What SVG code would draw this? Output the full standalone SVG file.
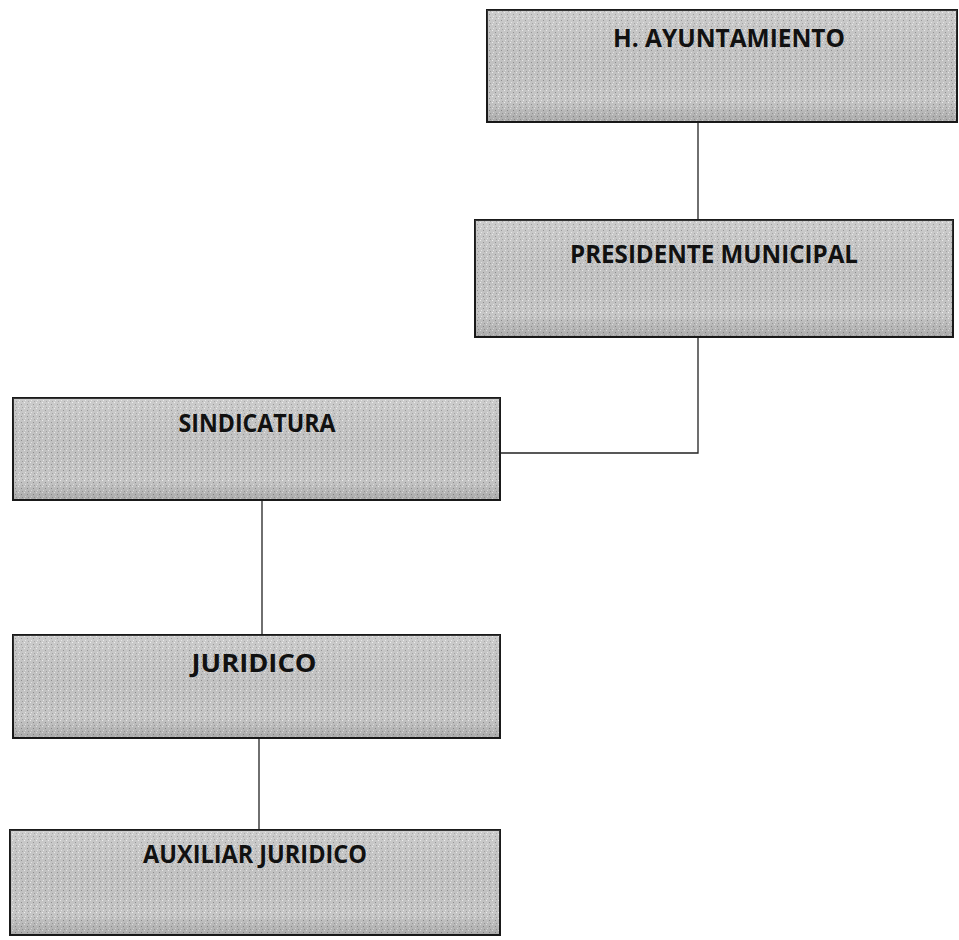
<svg xmlns="http://www.w3.org/2000/svg" width="959" height="940" viewBox="0 0 959 940">
<defs>
<pattern id="tex" width="6" height="6" patternUnits="userSpaceOnUse">
<rect width="6" height="6" fill="#c6c6c6"/>
<rect x="0" y="0" width="1" height="1" fill="#eeeeee"/>
<rect x="3" y="2" width="1" height="1" fill="#8f8f8f"/>
<rect x="1" y="4" width="1" height="1" fill="#e6e6e6"/>
<rect x="4" y="5" width="1" height="1" fill="#9f9f9f"/>
</pattern>
<linearGradient id="shade" x1="0" y1="0" x2="0" y2="1">
<stop offset="0" stop-color="#ffffff" stop-opacity="0.12"/>
<stop offset="0.8" stop-color="#000000" stop-opacity="0"/>
<stop offset="1" stop-color="#000000" stop-opacity="0.14"/>
</linearGradient>
</defs>
<style>
.box{fill:url(#tex);stroke:#1a1a1a;stroke-width:2}
.sh{fill:url(#shade);stroke:none}
.lbl{font-family:"Open Sans","Liberation Sans",sans-serif;font-weight:bold;font-size:25px;fill:#111;text-anchor:middle}
.con{fill:none;stroke:#222;stroke-width:1.3}
</style>
<g id="connectors">
<line class="con" x1="698" y1="122" x2="698" y2="220"/>
<polyline class="con" points="698,337 698,453 500,453"/>
<line class="con" x1="262" y1="500" x2="262" y2="635"/>
<line class="con" x1="259" y1="738" x2="259" y2="830"/>
</g>
<g id="n1">
<rect class="box" x="487" y="10" width="470" height="112"/>
<rect class="sh" x="487" y="10" width="470" height="112"/>
<text class="lbl" x="729" y="47" textLength="232" lengthAdjust="spacingAndGlyphs">H. AYUNTAMIENTO</text>
</g>
<g id="n2">
<rect class="box" x="475" y="220" width="478" height="117"/>
<rect class="sh" x="475" y="220" width="478" height="117"/>
<text class="lbl" x="714" y="263" textLength="288" lengthAdjust="spacingAndGlyphs">PRESIDENTE MUNICIPAL</text>
</g>
<g id="n3">
<rect class="box" x="13" y="398" width="487" height="102"/>
<rect class="sh" x="13" y="398" width="487" height="102"/>
<text class="lbl" x="257" y="432" textLength="157" lengthAdjust="spacingAndGlyphs">SINDICATURA</text>
</g>
<g id="n4">
<rect class="box" x="13" y="635" width="487" height="103"/>
<rect class="sh" x="13" y="635" width="487" height="103"/>
<text class="lbl" x="254" y="672" textLength="125" lengthAdjust="spacingAndGlyphs">JURIDICO</text>
</g>
<g id="n5">
<rect class="box" x="10" y="830" width="490" height="105"/>
<rect class="sh" x="10" y="830" width="490" height="105"/>
<text class="lbl" x="255" y="863" textLength="224" lengthAdjust="spacingAndGlyphs">AUXILIAR JURIDICO</text>
</g>
</svg>
